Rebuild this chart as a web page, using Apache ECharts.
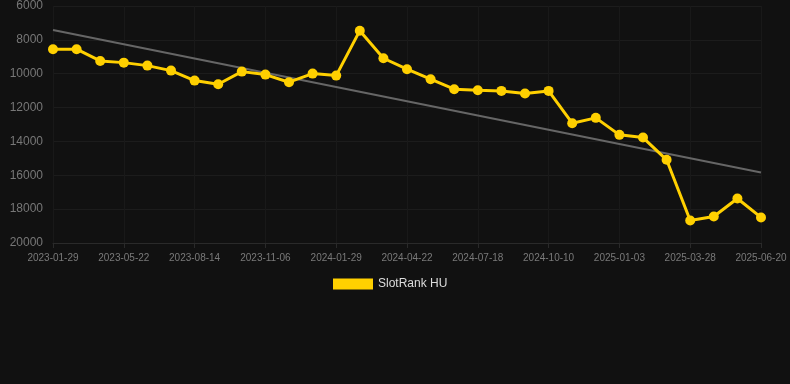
<!DOCTYPE html>
<html>
<head>
<meta charset="utf-8">
<script src="https://cdn.jsdelivr.net/npm/echarts@6/dist/echarts.min.js"></script>
<style>
html,body{margin:0;padding:0;background:#111111;}
#chart{width:790px;height:384px;}
</style>
</head>
<body>
<div id="chart"></div>
<script>
var categories = ["2023-01-29","2023-03-05","2023-04-16","2023-05-22","2023-06-18","2023-07-16","2023-08-14","2023-09-10","2023-10-08","2023-11-06","2023-12-03","2023-12-31","2024-01-29","2024-02-25","2024-03-24","2024-04-22","2024-05-20","2024-06-17","2024-07-18","2024-08-15","2024-09-12","2024-10-10","2024-11-07","2024-12-05","2025-01-03","2025-01-31","2025-02-28","2025-03-28","2025-04-25","2025-05-23","2025-06-20"];
var rankValues = [8550,8550,9245,9345,9522,9817,10407,10620,9876,10053,10502,9994,10112,7457,9086,9735,10325,10915,10974,11015,11174,11015,12921,12608,13611,13770,15086,18667,18431,17369,18490];
var trendStart = 7416;
var trendEnd = 15835;
var yTicks = [6000, 8000, 10000, 12000, 14000, 16000, 18000, 20000];

var trendData = categories.map(function(c, i){
  if (i === 0) return trendStart;
  if (i === categories.length - 1) return trendEnd;
  return null;
});

var chart = echarts.init(document.getElementById('chart'));
chart.setOption({
  backgroundColor: '#111111',
  animation: false,
  grid: { left: 53, right: 29, top: 6, bottom: 141, containLabel: false },
  legend: {
    data: ['SlotRank HU'],
    top: 273,
    left: 328,
    itemWidth: 40,
    itemHeight: 11,
    itemGap: 10,
    icon: 'rect',
    textStyle: { color: '#dddddd', fontSize: 12, fontFamily: 'Liberation Sans, Arial, sans-serif' }
  },
  xAxis: {
    type: 'category',
    data: categories,
    boundaryGap: false,
    axisLine: { lineStyle: { color: '#2a2a2a' } },
    axisTick: { show: true, interval: 2, alignWithLabel: true, lineStyle: { color: '#2a2a2a' } },
    axisLabel: { interval: 2, color: '#7a7a7a', fontSize: 10, margin: 10, fontFamily: 'Liberation Sans, Arial, sans-serif' },
    splitLine: { show: true, interval: 2, lineStyle: { color: '#191919' } }
  },
  yAxis: {
    type: 'value',
    inverse: true,
    min: yTicks[0],
    max: yTicks[yTicks.length - 1],
    interval: 2000,
    axisLine: { show: false },
    axisTick: { show: false },
    axisLabel: { color: '#777777', fontSize: 12, margin: 10, fontFamily: 'Liberation Sans, Arial, sans-serif', formatter: function(v){ return String(v); } },
    splitLine: { show: true, lineStyle: { color: '#1c1c1c' } }
  },
  series: [
    {
      name: 'SlotRank HU',
      type: 'line',
      data: rankValues,
      symbol: 'circle',
      symbolSize: 10,
      z: 3,
      lineStyle: { color: '#ffd000', width: 3 },
      itemStyle: { color: '#ffd000' }
    },
    {
      name: 'Trend',
      type: 'line',
      data: trendData,
      connectNulls: true,
      symbol: 'none',
      z: 2,
      lineStyle: { color: '#666666', width: 2 },
      itemStyle: { color: '#666666' }
    }
  ]
});
</script>
</body>
</html>
